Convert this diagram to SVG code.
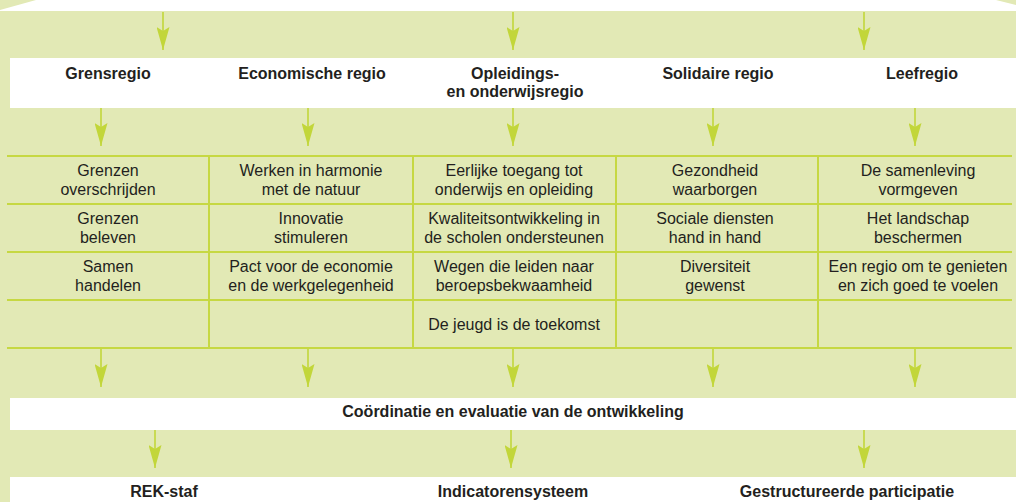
<svg xmlns="http://www.w3.org/2000/svg" width="1016" height="502" viewBox="0 0 1016 502">
<style>
.bg{fill:#e2e9b5}
.band{fill:#ffffff}
.grid{stroke:#c6d842;stroke-width:2;fill:none}
.arr{stroke:#c2d63a;stroke-width:1.6;fill:none}
.h{font-family:"Liberation Sans",Arial,sans-serif;font-weight:bold;font-size:16px;fill:#231f20;text-anchor:middle}
.t{font-family:"Liberation Sans",Arial,sans-serif;font-size:16px;fill:#231f20;text-anchor:middle}
</style>
<defs>
<marker id="ah" markerUnits="userSpaceOnUse" viewBox="0 0 23 13" refX="23" refY="6.5" markerWidth="23" markerHeight="13" orient="auto">
<path d="M0,0 L23,6.5 L0,13 L4,6.5 Z" fill="#c2d63a"/>
</marker>
</defs>
<rect class="bg" x="0" y="0" width="1016" height="502"/>
<g id="top-banner"><polygon class="band" points="36,0 996,0 1016,5 1016,11 0,11 0,10"/></g>
<g id="regions">
<rect class="band" x="10" y="58" width="1006" height="50"/>
<g id="grensregio"><text class="h" x="108" y="79">Grensregio</text></g>
<g id="economische-regio"><text class="h" x="312" y="79">Economische regio</text></g>
<g id="opleidingsregio"><text class="h" x="515" y="79">Opleidings-</text><text class="h" x="515" y="97">en onderwijsregio</text></g>
<g id="solidaire-regio"><text class="h" x="718" y="79">Solidaire regio</text></g>
<g id="leefregio"><text class="h" x="922" y="79">Leefregio</text></g>
</g>
<g id="table">
<path class="grid" d="M7,156H1012M7,204H1012M7,252H1012M7,300H1012M7,348H1012M209,156V348M413,156V348M616,156V348M818,156V348"/>
<g id="c11"><text class="t" x="108" y="176">Grenzen</text><text class="t" x="108" y="195">overschrijden</text></g>
<g id="c12"><text class="t" x="108" y="224">Grenzen</text><text class="t" x="108" y="243">beleven</text></g>
<g id="c13"><text class="t" x="108" y="272">Samen</text><text class="t" x="108" y="291">handelen</text></g>
<g id="c21"><text class="t" x="311" y="176">Werken in harmonie</text><text class="t" x="311" y="195">met de natuur</text></g>
<g id="c22"><text class="t" x="311" y="224">Innovatie</text><text class="t" x="311" y="243">stimuleren</text></g>
<g id="c23"><text class="t" x="311" y="272">Pact voor de economie</text><text class="t" x="311" y="291">en de werkgelegenheid</text></g>
<g id="c31"><text class="t" x="514" y="176">Eerlijke toegang tot</text><text class="t" x="514" y="195">onderwijs en opleiding</text></g>
<g id="c32"><text class="t" x="514" y="224">Kwaliteitsontwikkeling in</text><text class="t" x="514" y="243">de scholen ondersteunen</text></g>
<g id="c33"><text class="t" x="514" y="272">Wegen die leiden naar</text><text class="t" x="514" y="291">beroepsbekwaamheid</text></g>
<g id="c34"><text class="t" x="514" y="330">De jeugd is de toekomst</text></g>
<g id="c41"><text class="t" x="715" y="176">Gezondheid</text><text class="t" x="715" y="195">waarborgen</text></g>
<g id="c42"><text class="t" x="715" y="224">Sociale diensten</text><text class="t" x="715" y="243">hand in hand</text></g>
<g id="c43"><text class="t" x="715" y="272">Diversiteit</text><text class="t" x="715" y="291">gewenst</text></g>
<g id="c51"><text class="t" x="918" y="176">De samenleving</text><text class="t" x="918" y="195">vormgeven</text></g>
<g id="c52"><text class="t" x="918" y="224">Het landschap</text><text class="t" x="918" y="243">beschermen</text></g>
<g id="c53"><text class="t" x="918" y="272">Een regio om te genieten</text><text class="t" x="918" y="291">en zich goed te voelen</text></g>
</g>
<g id="coordination">
<rect class="band" x="10" y="398" width="1006" height="32"/>
<text class="h" x="513" y="417">Coördinatie en evaluatie van de ontwikkeling</text>
</g>
<g id="bottom">
<rect class="band" x="10" y="477" width="1006" height="25"/>
<g id="rek-staf"><text class="h" x="164" y="497">REK-staf</text></g>
<g id="indicatorensysteem"><text class="h" x="513" y="497">Indicatorensysteem</text></g>
<g id="participatie"><text class="h" x="847" y="497">Gestructureerde participatie</text></g>
</g>
<g id="connectors">
<path class="arr" marker-end="url(#ah)" d="M163,12V50"/>
<path class="arr" marker-end="url(#ah)" d="M513,12V50"/>
<path class="arr" marker-end="url(#ah)" d="M864,12V50"/>
<path class="arr" marker-end="url(#ah)" d="M101,108V146"/>
<path class="arr" marker-end="url(#ah)" d="M308,108V146"/>
<path class="arr" marker-end="url(#ah)" d="M513,108V146"/>
<path class="arr" marker-end="url(#ah)" d="M713,108V146"/>
<path class="arr" marker-end="url(#ah)" d="M915,108V146"/>
<path class="arr" marker-end="url(#ah)" d="M101,349V387"/>
<path class="arr" marker-end="url(#ah)" d="M308,349V387"/>
<path class="arr" marker-end="url(#ah)" d="M513,349V387"/>
<path class="arr" marker-end="url(#ah)" d="M713,349V387"/>
<path class="arr" marker-end="url(#ah)" d="M915,349V387"/>
<path class="arr" marker-end="url(#ah)" d="M155,430V468"/>
<path class="arr" marker-end="url(#ah)" d="M511,430V468"/>
<path class="arr" marker-end="url(#ah)" d="M864,430V468"/>
</g>
</svg>
